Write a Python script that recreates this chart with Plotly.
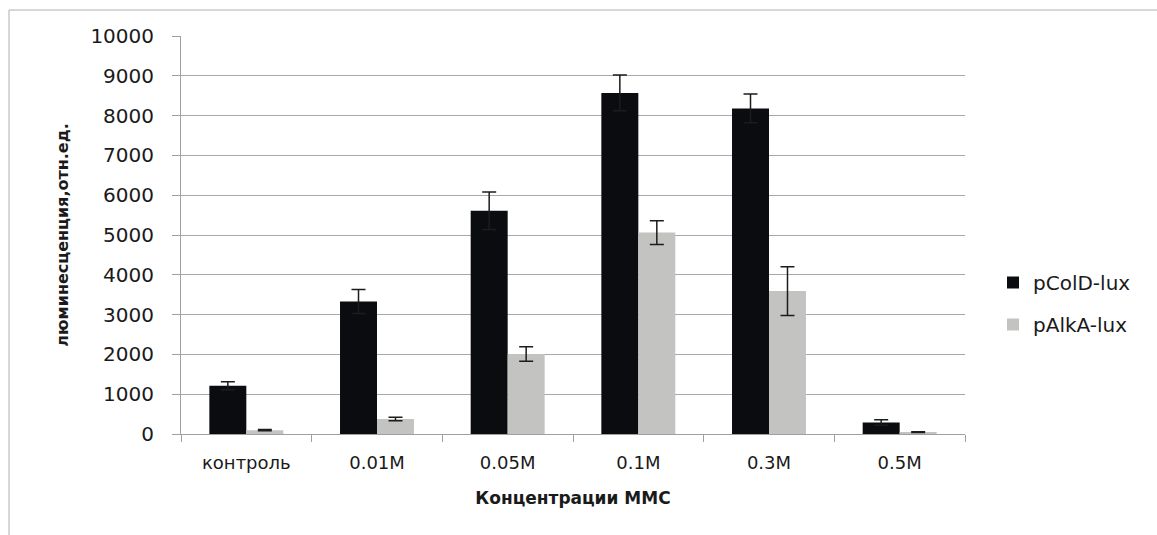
import plotly.graph_objects as go

# Concentrations of MMS and luminescence of the two biosensor strains
categories = ["контроль", "0.01M", "0.05M", "0.1M", "0.3M", "0.5M"]
cold_values = [1210, 3330, 5610, 8570, 8180, 290]
cold_errors = [100, 300, 470, 450, 360, 70]
alka_values = [95, 375, 2010, 5060, 3590, 45]
alka_errors = [15, 45, 180, 300, 610, 10]

FONT = "DejaVu Sans"
W, H = 1157, 535
L, R, T, B = 181, 192, 36, 101

fig = go.Figure()
fig.add_trace(go.Bar(
    name="pColD-lux", x=categories, y=cold_values, legendgroup="a",
    marker=dict(color="#0b0c10", line=dict(width=0)),
    error_y=dict(type="data", array=cold_errors, visible=True,
                 color="#1c1c1c", thickness=1.5, width=7),
))
fig.add_trace(go.Bar(
    name="pAlkA-lux", x=categories, y=alka_values, legendgroup="b",
    marker=dict(color="#c3c4c1", line=dict(width=0)),
    error_y=dict(type="data", array=alka_errors, visible=True,
                 color="#1c1c1c", thickness=1.5, width=7),
))

# outer chart frame
px_x = lambda p: (p - L) / (W - L - R)
px_y = lambda p: 1 - (p - T) / (H - T - B)
fig.add_shape(type="rect", xref="paper", yref="paper",
              x0=px_x(9), x1=px_x(1170), y0=px_y(10), y1=px_y(560),
              line=dict(color="#b0b0b0", width=1), fillcolor="rgba(0,0,0,0)",
              layer="below")

fig.update_layout(
    width=W, height=H,
    margin=dict(l=L, r=R, t=T, b=B, autoexpand=False),
    paper_bgcolor="white", plot_bgcolor="white",
    barmode="group", bargap=0.434, bargroupgap=0,
    font=dict(family=FONT, color="#1a1a1a"),
    showlegend=True,
    legend=dict(x=px_x(993), y=px_y(263), xanchor="left", yanchor="top",
                font=dict(family=FONT, size=20, color="#1a1a1a"),
                tracegroupgap=13, itemwidth=30, bgcolor="rgba(0,0,0,0)"),
    xaxis=dict(
        type="category", showline=True, linecolor="#a0a0a0", linewidth=1,
        ticks="outside", tickson="boundaries", ticklen=7, tickcolor="#a0a0a0",
        ticklabelstandoff=12,
        tickfont=dict(family=FONT, size=18, color="#1a1a1a"),
        showgrid=False,
        title=dict(text="<b>Концентрации ММС</b>", standoff=20,
                   font=dict(family=FONT, size=17, color="#1a1a1a")),
    ),
    yaxis=dict(
        range=[0, 10000], dtick=1000, tickformat="d",
        showline=True, linecolor="#a0a0a0", linewidth=1,
        ticks="outside", ticklen=8, tickcolor="#a0a0a0",
        ticklabelstandoff=14,
        showgrid=True, gridcolor="#a8a8a8", gridwidth=1,
        zeroline=False,
        tickfont=dict(family=FONT, size=20, color="#1a1a1a"),
        title=dict(text="<b>люминесценция,отн.ед.</b>", standoff=17,
                   font=dict(family=FONT, size=16, color="#1a1a1a")),
    ),
)

fig.write_html("out.html")
